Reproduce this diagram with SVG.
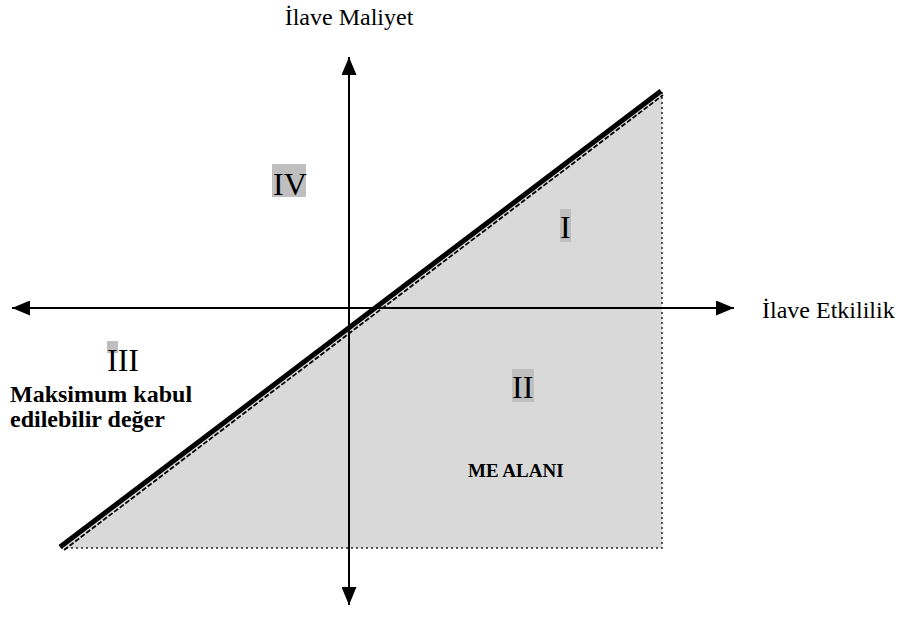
<svg xmlns="http://www.w3.org/2000/svg" width="906" height="617" viewBox="0 0 906 617">
<style>
.lbl{font-family:"Liberation Serif","Times New Roman",serif;font-size:24px;fill:#000}
.rom{font-family:"Liberation Serif","Times New Roman",serif;font-size:32px;fill:#000}
.bold{font-family:"Liberation Serif","Times New Roman",serif;font-weight:bold;fill:#000}
.hl{fill:#bfbfbf}
.axis{stroke:#000;stroke-width:2;fill:none}
</style>
<defs>
<marker id="arr" viewBox="0 0 18 15" refX="18" refY="7.5" markerWidth="18" markerHeight="15" markerUnits="userSpaceOnUse" orient="auto">
<path d="M0,0 L18,7.5 L0,15 Z" fill="#000"/>
</marker>
</defs>
<g id="region">
<polygon points="62,548 662,92 662,548" fill="#d9d9d9"/>
<path d="M662,92 L662,548 L62,548" fill="none" stroke="#222" stroke-width="1.5" stroke-dasharray="2,3"/>
<path d="M64,550 L663,95" fill="none" stroke="#000" stroke-width="1.8" stroke-dasharray="5,2"/>
</g>
<g id="connectors">
<line class="axis" x1="349" y1="308" x2="12" y2="308" marker-end="url(#arr)"/>
<line class="axis" x1="349" y1="308" x2="734" y2="308" marker-end="url(#arr)"/>
<line class="axis" x1="349" y1="320" x2="349" y2="57" marker-end="url(#arr)"/>
<line class="axis" x1="349" y1="300" x2="349" y2="605" marker-end="url(#arr)"/>
</g>
<g id="line">
<line x1="60" y1="547" x2="661" y2="91" stroke="#000" stroke-width="5"/>
</g>
<g id="axis-y-label"><text class="lbl" x="349" y="25" text-anchor="middle">İlave Maliyet</text></g>
<g id="axis-x-label"><text class="lbl" x="762" y="318">İlave Etkililik</text></g>
<g id="q4"><rect class="hl" x="272" y="164" width="34" height="33"/><text class="rom" x="273" y="195">IV</text></g>
<g id="q1"><rect class="hl" x="560" y="209" width="11" height="33"/><text class="rom" x="560" y="238">I</text></g>
<g id="q2"><rect class="hl" x="512" y="369" width="22" height="33"/><text class="rom" x="512" y="398">II</text></g>
<g id="q3"><rect class="hl" x="107" y="341" width="11" height="12"/><text class="rom" x="107" y="371">III</text></g>
<g id="max-label"><text class="bold" font-size="24" x="10" y="402">Maksimum kabul</text><text class="bold" font-size="24" x="10" y="427">edilebilir değer</text></g>
<g id="me-label"><text class="bold" font-size="19" x="468" y="477">ME ALANI</text></g>
</svg>
